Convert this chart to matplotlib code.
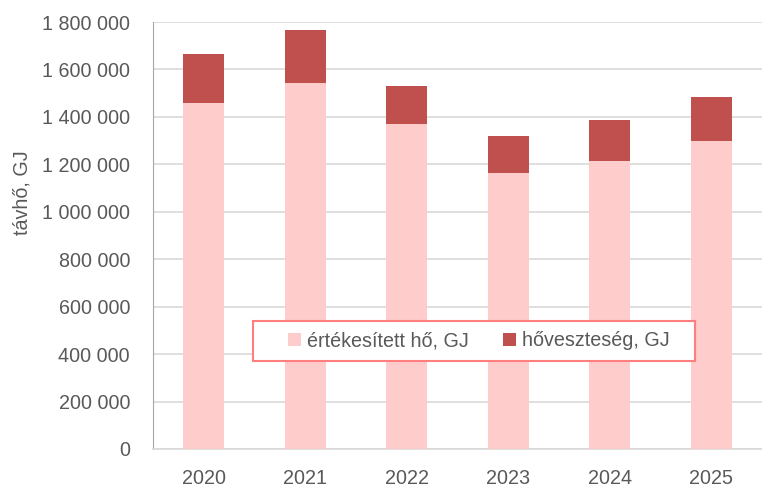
import matplotlib
matplotlib.use("Agg")
import matplotlib.pyplot as plt
from matplotlib.ticker import FuncFormatter
from matplotlib.patches import Rectangle
import numpy as np

years = ["2020", "2021", "2022", "2023", "2024", "2025"]
sold_heat = [1457000, 1544000, 1370000, 1162000, 1215000, 1300000]
heat_loss = [210000, 221000, 160000, 157000, 172000, 185000]
series_names = ["értékesített hő, GJ", "hőveszteség, GJ"]
y_label = "távhő, GJ"

plt.rcParams['font.family'] = ['Liberation Sans', 'DejaVu Sans']
fs = 14.2
text_color = "#595959"

fig = plt.figure(figsize=(7.62, 4.88), dpi=100)
ax = fig.add_axes([153/762, 1 - 449/488, (762 - 153)/762, (449 - 22)/488])

x = np.arange(len(years))
ax.bar(x, sold_heat, width=0.4, color="#FFCCCC", label=series_names[0], zorder=3)
ax.bar(x, heat_loss, width=0.4, bottom=sold_heat, color="#C0504D", label=series_names[1], zorder=3)

ax.set_xlim(-0.5, len(years) - 0.5)
ax.set_ylim(0, 1800000)
ax.set_yticks(np.arange(0, 1800001, 200000))
ax.yaxis.set_major_formatter(FuncFormatter(lambda v, p: f"{int(v):,}".replace(",", " ")))
ax.set_xticks(x)
ax.set_xticklabels(years)

ax.grid(axis='y', color="#D9D9D9", linewidth=1.2, zorder=0)
ax.set_axisbelow(True)
for s in ["top", "right"]:
    ax.spines[s].set_visible(False)
ax.spines["left"].set_color("#A6A6A6")
ax.spines["bottom"].set_color("#D9D9D9")
ax.spines["bottom"].set_linewidth(1.2)
ax.tick_params(axis='both', length=0, labelsize=fs, colors=text_color)
ax.tick_params(axis='y', pad=16.5)
ax.tick_params(axis='x', pad=14.5)
ax.set_ylabel(y_label, fontsize=fs, color=text_color)
ax.yaxis.set_label_coords(-0.2, 0.6)

ax.add_patch(Rectangle((253/762, 1 - 361/488), (695 - 253)/762, 40/488,
                       transform=fig.transFigure, facecolor="white",
                       edgecolor="#FF7F7F", linewidth=1.5, zorder=6, clip_on=False))
leg = ax.legend(loc='center', bbox_to_anchor=((478.5 - 153) / 609, (449 - 341) / 427), ncol=2, fontsize=fs,
                frameon=False, handlelength=0.65, handleheight=0.65,
                columnspacing=1.75, handletextpad=0.3, borderpad=0.0)
leg.set_zorder(7)
for t in leg.get_texts():
    t.set_color(text_color)

fig.savefig("out.png", dpi=100)
